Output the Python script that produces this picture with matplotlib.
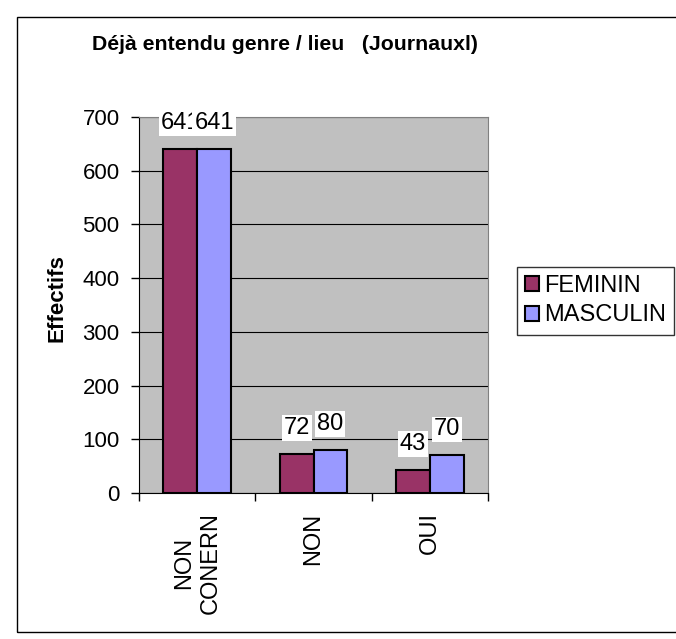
import matplotlib
matplotlib.use("Agg")
import matplotlib.pyplot as plt
import numpy as np
from matplotlib.patches import Rectangle

categories = ["NON\nCONERN", "NON", "OUI"]
feminin = [641, 72, 43]
masculin = [641, 80, 70]
series_names = ["FEMININ", "MASCULIN"]
colors = ["#993366", "#9999FF"]

plt.rcParams['font.family'] = ['Liberation Sans', 'DejaVu Sans']

fig = plt.figure(figsize=(6.76, 6.39), dpi=100)
fig.patches.append(Rectangle((17/676, 1-632/639), 1.0, (632-17)/639, transform=fig.transFigure,
                             fill=False, edgecolor='black', linewidth=1.0))

ax = fig.add_axes([139/676, 1-493/639, (488-139)/676, (493-117)/639])
ax.set_facecolor('#C0C0C0')

x = np.arange(len(categories))
w = 0.29
b1 = ax.bar(x - w/2, feminin, w, color=colors[0], edgecolor='black', linewidth=1.5, label=series_names[0], zorder=3)
b2 = ax.bar(x + w/2, masculin, w, color=colors[1], edgecolor='black', linewidth=1.5, label=series_names[1], zorder=3)

for bars, vals in ((b1, feminin), (b2, masculin)):
    for r, v in zip(bars, vals):
        ax.annotate(str(v), (r.get_x() + r.get_width()/2, v), xytext=(0, 26), textcoords='offset pixels',
                    ha='center', va='center', fontsize=17,
                    bbox=dict(boxstyle='square,pad=0.08', facecolor='white', edgecolor='none'), zorder=5)

ax.set_xlim(-0.5, 2.5)
ax.set_ylim(0, 700)
ax.set_yticks(range(0, 701, 100))
ax.tick_params(axis='y', labelsize=16, direction='out', length=6, width=1, pad=8)
ax.yaxis.grid(True, color='black', linewidth=0.8, zorder=1)
ax.set_xticks([-0.5, 0.5, 1.5, 2.5])
ax.set_xticklabels([])
ax.tick_params(axis='x', direction='out', length=6, width=1)
ax.set_xticks(x, minor=True)
ax.set_xticklabels(categories, minor=True, rotation=90, fontsize=17, ha='center', va='top',
                   multialignment='center', linespacing=1.25)
ax.tick_params(axis='x', which='minor', length=0, pad=14)

for s in ['top', 'right']:
    ax.spines[s].set_color('#808080')
for s in ['left', 'bottom']:
    ax.spines[s].set_color('black')

fig.text(57/676, 1-298/639, 'Effectifs', fontsize=16, fontweight='bold', rotation=90,
         ha='center', va='center')

fig.text(92/676, 1-45/639, 'Déjà entendu genre / lieu   (Journauxl)', fontsize=15.3, fontweight='bold',
         ha='left', va='center')

leg = fig.legend(handles=[b1, b2], labels=series_names, loc='upper left',
                 bbox_to_anchor=(517/676, 1-267/639), fontsize=17, frameon=True, fancybox=False,
                 edgecolor='black', handlelength=0.6, handleheight=0.6, handletextpad=0.2,
                 borderpad=0.35, labelspacing=0.3, borderaxespad=0)
leg.get_frame().set_linewidth(1.0)

fig.savefig('out.png', dpi=100, facecolor='white')
